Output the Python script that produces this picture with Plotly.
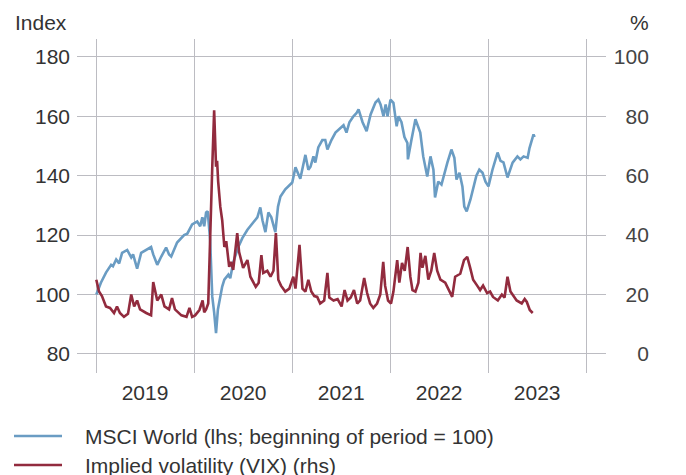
import plotly.graph_objects as go

# MSCI World, index (beginning of period = 100), left axis
msci_dates = [
    "2019-01-02", "2019-01-19", "2019-02-07", "2019-02-26", "2019-03-05", "2019-03-17",
    "2019-03-28", "2019-04-08", "2019-04-27", "2019-05-12", "2019-05-19", "2019-06-03",
    "2019-06-18", "2019-07-07", "2019-07-25", "2019-08-02", "2019-08-17", "2019-09-01",
    "2019-09-19", "2019-09-30", "2019-10-08", "2019-10-30", "2019-11-25", "2019-12-07",
    "2019-12-25", "2020-01-13", "2020-01-24", "2020-02-01", "2020-02-08", "2020-02-15",
    "2020-02-21", "2020-03-01", "2020-03-09", "2020-03-16", "2020-03-23", "2020-03-30",
    "2020-04-15", "2020-04-23", "2020-05-08", "2020-05-15", "2020-05-26", "2020-06-14",
    "2020-06-29", "2020-07-18", "2020-08-05", "2020-08-24", "2020-09-04", "2020-09-12",
    "2020-09-23", "2020-10-04", "2020-10-15", "2020-10-30", "2020-11-09", "2020-11-18",
    "2020-12-06", "2021-01-01", "2021-01-13", "2021-01-31", "2021-02-19", "2021-03-02",
    "2021-03-10", "2021-03-21", "2021-03-28", "2021-04-08", "2021-04-23", "2021-05-04",
    "2021-05-12", "2021-05-27", "2021-06-11", "2021-06-30", "2021-07-11", "2021-07-22",
    "2021-08-02", "2021-08-17", "2021-08-28", "2021-09-05", "2021-09-20", "2021-10-05",
    "2021-10-20", "2021-11-07", "2021-11-18", "2021-11-26", "2021-12-07", "2021-12-15",
    "2021-12-22", "2022-01-02", "2022-01-13", "2022-01-25", "2022-02-01", "2022-02-12",
    "2022-02-23", "2022-03-06", "2022-03-08", "2022-03-21", "2022-04-05", "2022-04-23",
    "2022-05-04", "2022-05-19", "2022-05-31", "2022-06-11", "2022-06-17", "2022-06-29",
    "2022-07-11", "2022-08-02", "2022-08-17", "2022-08-28", "2022-09-05", "2022-09-16",
    "2022-09-27", "2022-10-04", "2022-10-13", "2022-10-27", "2022-11-07", "2022-11-18",
    "2022-11-29", "2022-12-11", "2022-12-22", "2023-01-02", "2023-01-17", "2023-02-05",
    "2023-02-16", "2023-02-27", "2023-03-14", "2023-04-02", "2023-04-20", "2023-05-01",
    "2023-05-13", "2023-05-28", "2023-06-04", "2023-06-19", "2023-06-23",
]
msci_values = [
    100, 104, 107.4, 110, 109.5, 111.8,
    110.5, 114, 115, 112.5, 113.5, 108.7,
    114, 115, 116, 113.5, 110, 112.8,
    115.8, 113.5, 112.8, 117.5, 120, 120.5,
    123.6, 124.6, 123, 126, 123, 127.6,
    128, 118.5, 99.3, 94, 87, 95,
    102.7, 105, 106.7, 105.5, 110.8, 116,
    119, 121.8, 124, 126, 129.3, 125,
    121, 127.6, 126, 121, 129.6, 133,
    135.4, 137.7, 142.8, 139, 147, 142,
    143, 146.5, 144.4, 149.5, 152, 152,
    148.8, 152, 154.5, 156, 157, 154.5,
    158, 160, 161, 162.3, 158, 155,
    160.6, 164.6, 165.6, 164, 160, 164,
    160, 165.6, 164.5, 156.6, 160, 158,
    153, 151, 145.5, 152, 159, 154.5,
    146.5, 139.7, 146.5, 142, 132.7, 138,
    137, 144.4, 148.8, 146, 138.7, 141,
    136.4, 129.6, 128, 132, 136.4, 140,
    142, 141, 138, 136.4, 142, 147.8,
    145, 144.5, 139.4, 144.4, 146.5, 145.5,
    146.5, 146, 149.3, 153.9, 153,
]

# Implied volatility (VIX), %, right axis
vix_dates = [
    "2019-01-02", "2019-01-12", "2019-01-23", "2019-02-07", "2019-02-22", "2019-03-09",
    "2019-03-20", "2019-03-31", "2019-04-15", "2019-04-30", "2019-05-12", "2019-05-23",
    "2019-06-03", "2019-06-14", "2019-07-07", "2019-07-25", "2019-08-02", "2019-08-10",
    "2019-08-17", "2019-09-01", "2019-09-13", "2019-09-30", "2019-10-11", "2019-10-22",
    "2019-11-15", "2019-12-04", "2019-12-15", "2019-12-25", "2020-01-05", "2020-01-21",
    "2020-02-02", "2020-02-08", "2020-02-15", "2020-02-23", "2020-03-01", "2020-03-09",
    "2020-03-16", "2020-03-23", "2020-03-27", "2020-03-31", "2020-04-08", "2020-04-15",
    "2020-04-23", "2020-04-30", "2020-05-11", "2020-05-18", "2020-05-26", "2020-06-10",
    "2020-06-17", "2020-07-02", "2020-07-18", "2020-07-29", "2020-08-18", "2020-08-29",
    "2020-09-08", "2020-09-15", "2020-09-30", "2020-10-12", "2020-10-23", "2020-11-01",
    "2020-11-10", "2020-11-20", "2020-12-06", "2020-12-21", "2021-01-05", "2021-01-13",
    "2021-01-28", "2021-02-08", "2021-02-19", "2021-03-02", "2021-03-13", "2021-03-24",
    "2021-04-04", "2021-04-15", "2021-04-30", "2021-05-12", "2021-05-19", "2021-06-04",
    "2021-06-19", "2021-07-04", "2021-07-15", "2021-07-26", "2021-08-07", "2021-08-19",
    "2021-08-31", "2021-09-11", "2021-09-26", "2021-10-07", "2021-10-18", "2021-10-30",
    "2021-11-13", "2021-11-25", "2021-12-06", "2021-12-13", "2021-12-24", "2022-01-04",
    "2022-01-13", "2022-01-27", "2022-02-04", "2022-02-14", "2022-02-24", "2022-03-07",
    "2022-03-17", "2022-03-25", "2022-04-05", "2022-04-16", "2022-04-24", "2022-05-01",
    "2022-05-12", "2022-05-23", "2022-06-03", "2022-06-14", "2022-06-25", "2022-07-07",
    "2022-07-25", "2022-08-20", "2022-08-31", "2022-09-19", "2022-10-03", "2022-10-15",
    "2022-10-26", "2022-11-06", "2022-11-21", "2022-12-02", "2022-12-13", "2022-12-28",
    "2023-01-08", "2023-01-19", "2023-02-06", "2023-02-21", "2023-03-03", "2023-03-14",
    "2023-03-25", "2023-04-17", "2023-05-06", "2023-05-17", "2023-05-25", "2023-06-05",
    "2023-06-16",
]
vix_values = [
    25, 21, 19.5, 16, 15.5, 13.8,
    16, 13.8, 12.5, 13.5, 20, 16,
    18, 15, 13.8, 13, 24.2, 21,
    18, 20, 16, 15, 18.8, 15,
    13, 12.5, 15.5, 12.5, 13, 14.8,
    18, 14, 15, 17, 41.8, 63,
    82, 63, 65, 58, 49.5, 45,
    36, 38, 29.3, 31, 28.3, 40.7,
    34.3, 29, 31.6, 26, 22.6, 24,
    33.3, 27.3, 28, 26, 28, 40.7,
    25, 23, 21, 22, 26, 22,
    36.7, 22, 21, 25, 21, 19.5,
    19.2, 17, 18, 27.3, 19, 18,
    18.5, 16, 21.5, 18, 19, 21.5,
    17, 18, 25.6, 20.5, 17, 15.5,
    17, 20, 31, 23, 18, 17,
    21, 31.6, 24, 30.6, 28, 36,
    26, 21.5, 21, 24, 34, 29,
    33, 25, 28, 34, 28, 25,
    24, 19.2, 26, 27, 31.6, 32.7,
    29, 25, 23, 21.5, 23, 20.5,
    21, 19.2, 18, 20, 19, 26,
    21, 18, 17, 18.5, 17.5, 14.8,
    13.8,
]

left_ticks = [80, 100, 120, 140, 160, 180]
right_ticks = [0, 20, 40, 60, 80, 100]
legend_labels = ["MSCI World (lhs; beginning of period = 100)", "Implied volatility (VIX) (rhs)"]

blue = "#6a9cc3"
red = "#922b3e"
grid = "#bcbcc2"
text_color = "#333333"
font = "Liberation Sans"

fig = go.Figure()
fig.add_trace(go.Scatter(x=msci_dates, y=msci_values, mode="lines",
                         line=dict(color=blue, width=2.6), name=legend_labels[0]))
fig.add_trace(go.Scatter(x=vix_dates, y=vix_values, mode="lines", yaxis="y2",
                         line=dict(color=red, width=2.6), name=legend_labels[1]))

# page body adds an 8px offset, so margins are reduced by 8 on top/left
fig.update_layout(
    width=686, height=475,
    margin=dict(l=69, r=34, t=31, b=110, autoexpand=False),
    plot_bgcolor="white", paper_bgcolor="white",
    showlegend=False,
    font=dict(family=font, size=21, color=text_color),
    xaxis=dict(
        domain=[0, 529 / 583],
        range=["2018-10-22", "2024-03-15"],
        type="date", tick0="2019-01-01", dtick="M12",
        ticklabelmode="period", tickformat="%Y",
        showgrid=True, gridcolor=grid, gridwidth=1,
        zeroline=False, showline=False, ticks="",
        ticklabelstandoff=5, automargin=False,
    ),
    yaxis=dict(
        range=[73.6, 186], tickvals=left_ticks,
        showgrid=True, gridcolor=grid, gridwidth=1,
        zeroline=False, showline=False, ticks="",
        ticklabelstandoff=6, automargin=False,
    ),
    yaxis2=dict(
        range=[-6.4, 106], tickvals=right_ticks,
        overlaying="y", side="right", anchor="free", position=0.986,
        ticklabelposition="inside", automargin=False,
        showgrid=False, zeroline=False, showline=False, ticks="",
    ),
)

# axis unit titles
fig.add_annotation(text="Index", xref="paper", yref="paper", x=(13 - 77) / 583, y=(373 - 22) / 334,
                   xanchor="left", yanchor="middle", showarrow=False)
fig.add_annotation(text="%", xref="paper", yref="paper", x=(651 - 77) / 583, y=(373 - 22) / 334,
                   xanchor="right", yanchor="middle", showarrow=False)

# legend drawn by hand below the chart
for i, (label, color) in enumerate(zip(legend_labels, [blue, red])):
    ly = (373 - (436 + 29 * i)) / 334
    fig.add_shape(type="line", xref="paper", yref="paper",
                  x0=(14 - 77) / 583, x1=(62 - 77) / 583, y0=ly, y1=ly,
                  line=dict(color=color, width=2.6))
    fig.add_annotation(text=label, xref="paper", yref="paper", x=(83 - 77) / 583, y=ly,
                       xanchor="left", yanchor="middle", showarrow=False)

fig.write_html("out.html")
